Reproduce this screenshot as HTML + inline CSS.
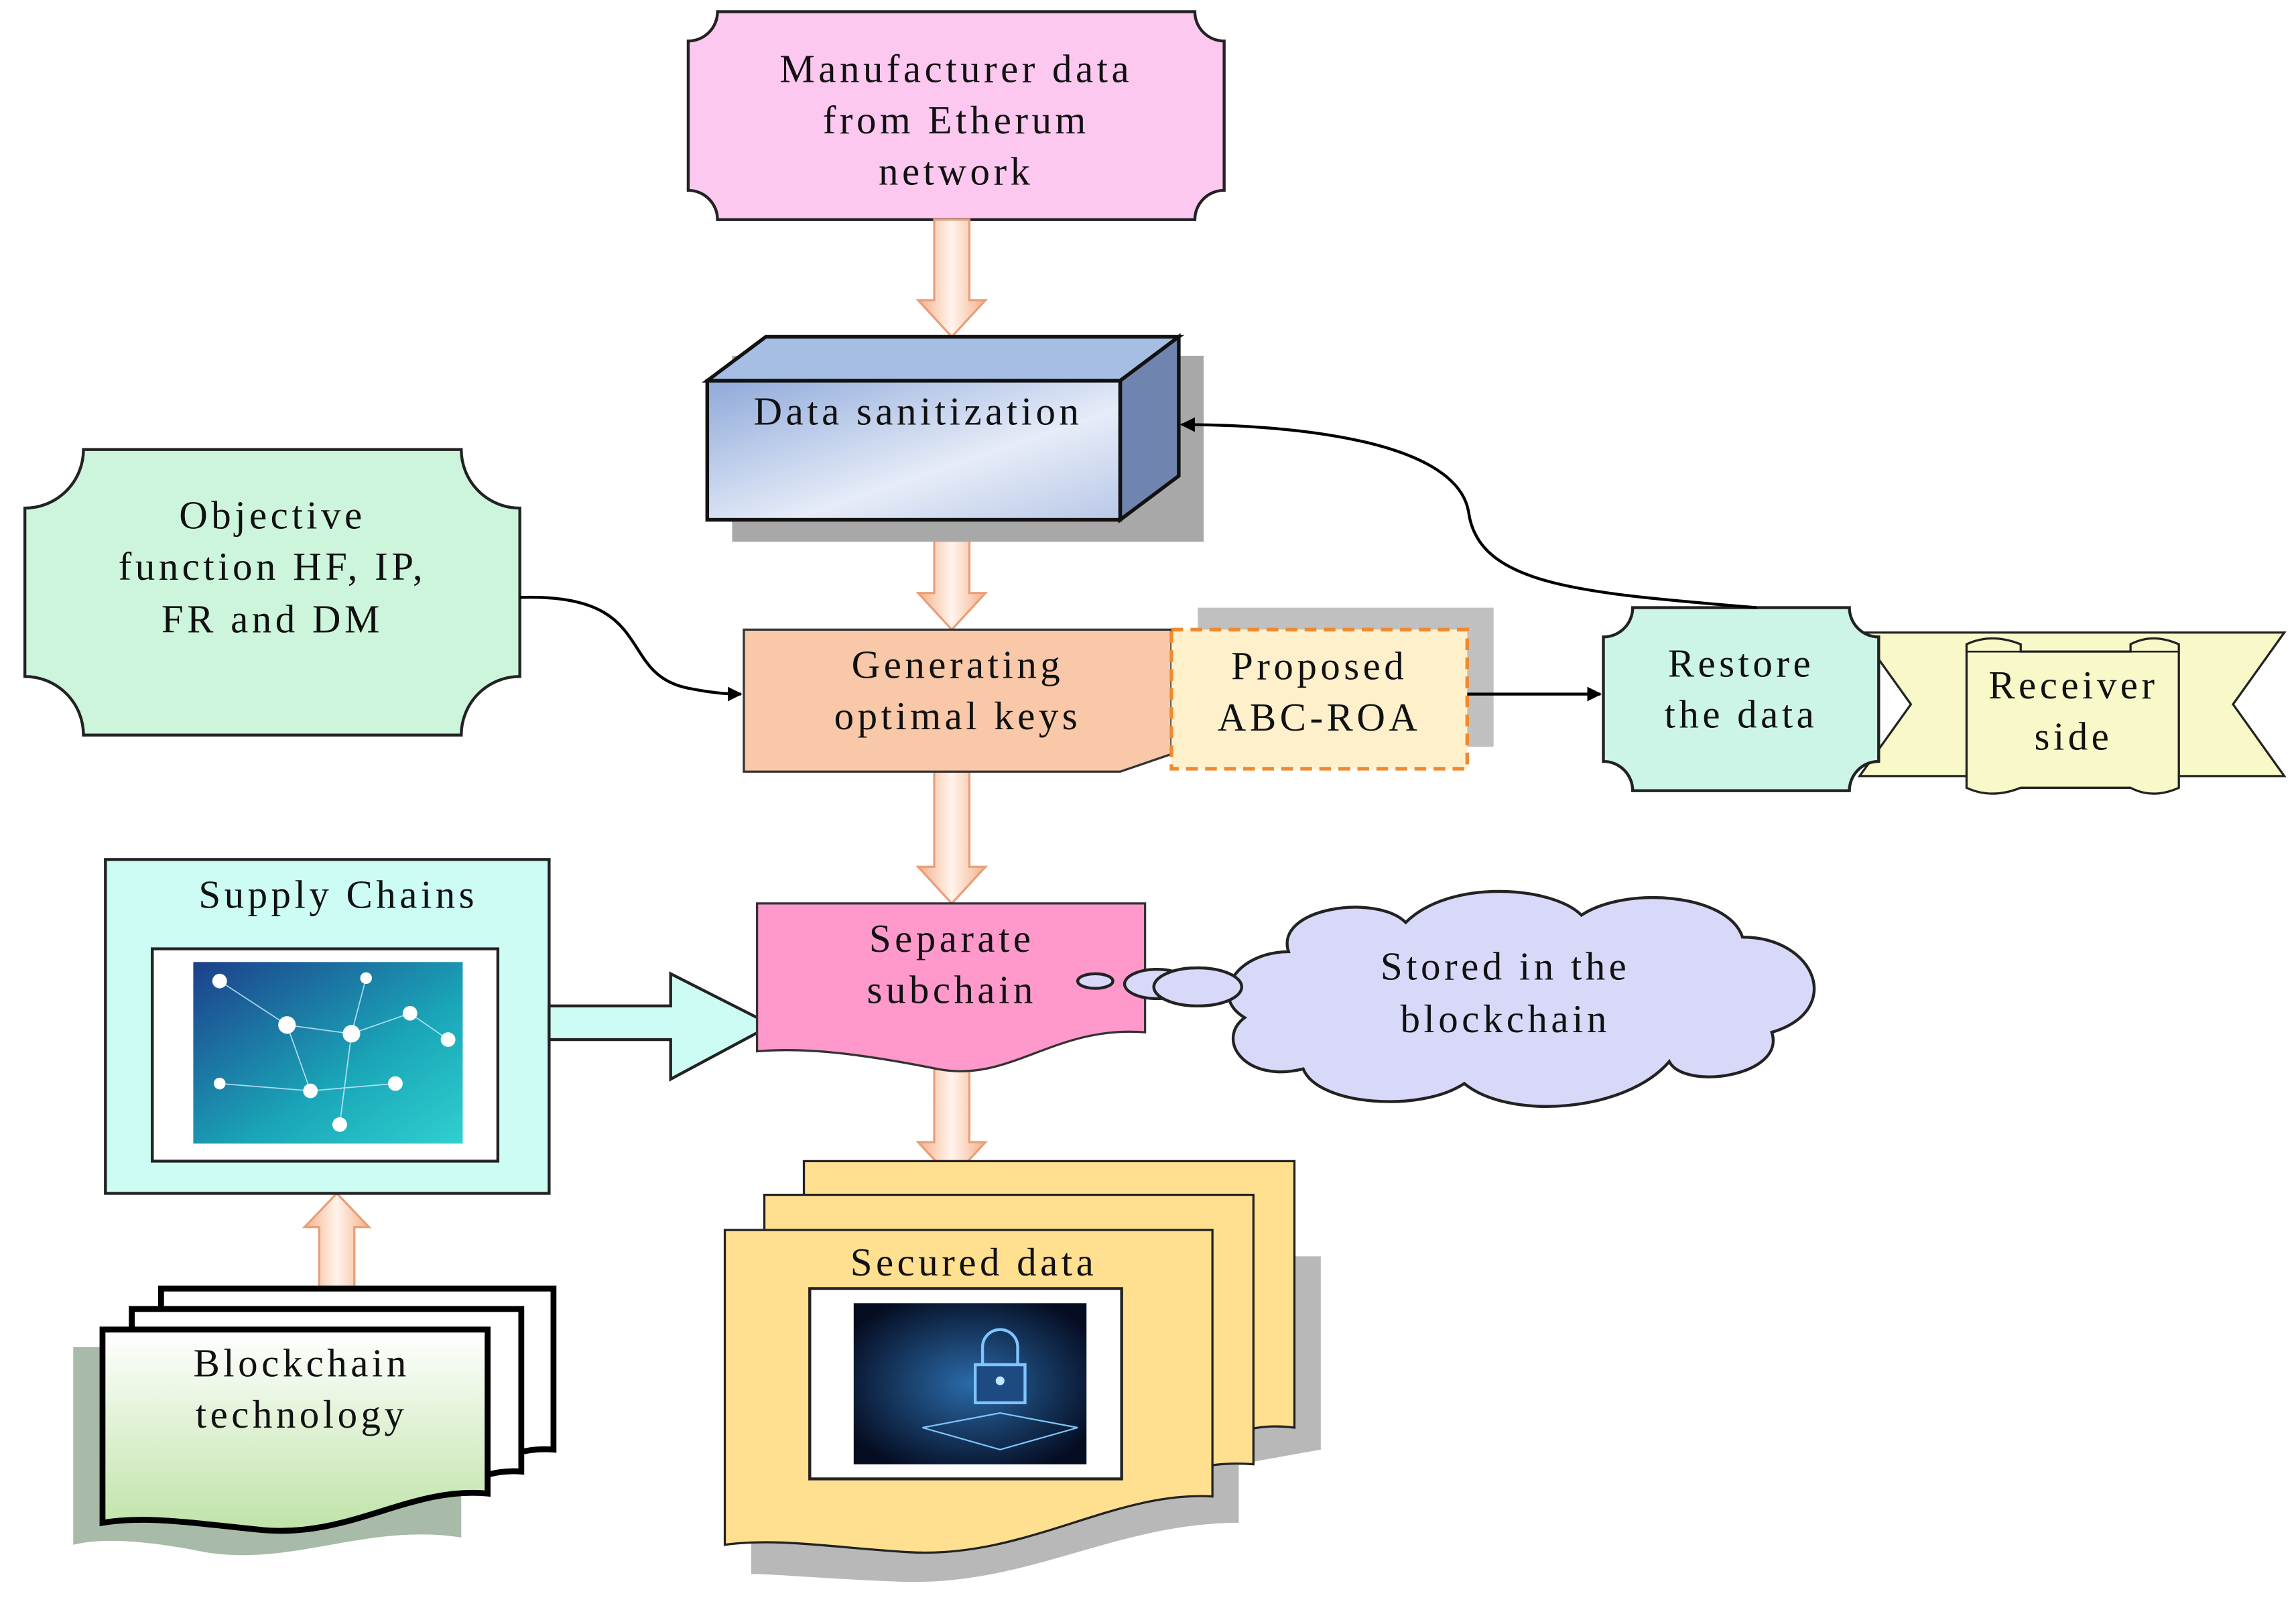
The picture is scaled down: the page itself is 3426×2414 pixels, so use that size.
<!DOCTYPE html>
<html><head><meta charset="utf-8"><style>
html,body{margin:0;padding:0;background:#fff;}
svg{display:block;}
text{font-family:"Liberation Serif",serif;font-size:27px;letter-spacing:2.5px;fill:#111;text-anchor:middle;}
</style></head><body>
<svg width="3426" height="2414" viewBox="0 0 1568 1105" preserveAspectRatio="none" xmlns="http://www.w3.org/2000/svg">
<defs>
<linearGradient id="arr" x1="0" x2="1" y1="0" y2="0"><stop offset="0" stop-color="#f5b08a"/><stop offset="0.5" stop-color="#fff4ec"/><stop offset="1" stop-color="#f5b08a"/></linearGradient>
<linearGradient id="blue" x1="0" y1="0" x2="1" y2="1"><stop offset="0" stop-color="#8fa9da"/><stop offset="0.6" stop-color="#e6ecf8"/><stop offset="1" stop-color="#b9c8e8"/></linearGradient>
<linearGradient id="green" x1="0" y1="0" x2="0" y2="1"><stop offset="0" stop-color="#ffffff"/><stop offset="1" stop-color="#bfe3a8"/></linearGradient>
<linearGradient id="net" x1="0" y1="0" x2="1" y2="1"><stop offset="0" stop-color="#1d3f8a"/><stop offset="0.6" stop-color="#1aa6b8"/><stop offset="1" stop-color="#2fd0d0"/></linearGradient>
<radialGradient id="lock" cx="0.5" cy="0.5" r="0.6"><stop offset="0" stop-color="#2a6aa8"/><stop offset="1" stop-color="#050d22"/></radialGradient>
<marker id="ah" markerWidth="10" markerHeight="10" refX="9" refY="5" orient="auto" markerUnits="userSpaceOnUse"><path d="M0,0 L10,5 L0,10 z" fill="#000"/></marker>
</defs>
<rect width="1568" height="1105" fill="#fff"/>

<path d="M490,8 H816 A20,20 0 0 0 836,28 V130 A20,20 0 0 0 816,150 H490 A20,20 0 0 0 470,130 V28 A20,20 0 0 0 490,8 Z" fill="#fcc8f0" stroke="#222" stroke-width="2"/>
<text x="653" y="56">Manufacturer data</text>
<text x="653" y="91">from Etherum</text>
<text x="653" y="126">network</text>

<g fill="url(#arr)" stroke="#e8a07a" stroke-width="1.5">
<path d="M638,150 H662 V205 H673 L650,230 L627,205 H638 Z"/>
<path d="M638,355 H662 V405 H673 L650,430 L627,405 H638 Z"/>
<path d="M638,527 H662 V592 H673 L650,617 L627,592 H638 Z"/>
<path d="M638,718 H662 V780 H673 L650,805 L627,780 H638 Z"/>
<path d="M218,890 H242 V838 H252 L230,815 L208,838 H218 Z"/>
</g>

<rect x="500" y="243" width="322" height="127" fill="#a8a8a8"/>
<path d="M483,260 L523,230 H805 L765,260 Z" fill="#a6bde4" stroke="#111" stroke-width="2.5"/>
<path d="M765,260 L805,230 V325 L765,355 Z" fill="#6f84ae" stroke="#111" stroke-width="2.5"/>
<rect x="483" y="260" width="282" height="95" fill="url(#blue)" stroke="#111" stroke-width="2.5"/>
<text x="627" y="290">Data sanitization</text>

<path d="M57,307 H315 A40,40 0 0 0 355,347 V462 A40,40 0 0 0 315,502 H57 A40,40 0 0 0 17,462 V347 A40,40 0 0 0 57,307 Z" fill="#ccf5dc" stroke="#222" stroke-width="2"/>
<text x="186" y="361">Objective</text>
<text x="186" y="396">function HF, IP,</text>
<text x="186" y="432">FR and DM</text>
<path d="M355,408 C450,405 420,460 470,470 C485,473 495,474 506,474" fill="none" stroke="#000" stroke-width="2" marker-end="url(#ah)"/>

<path d="M508,430 H800 V515 L765,527 H508 Z" fill="#f8c8a8" stroke="#333" stroke-width="1.5"/>
<text x="654" y="463">Generating</text>
<text x="654" y="498">optimal keys</text>

<rect x="818" y="415" width="202" height="95" fill="#c0c0c0"/>
<rect x="800" y="430" width="202" height="95" fill="#fff0cc" stroke="#f08a30" stroke-width="2.5" stroke-dasharray="8,5"/>
<text x="901" y="464">Proposed</text>
<text x="901" y="499">ABC-ROA</text>
<line x1="1002" y1="474" x2="1093" y2="474" stroke="#000" stroke-width="2" marker-end="url(#ah)"/>

<path d="M1270,432 H1560 L1525,481 L1560,530 H1270 L1305,481 Z" fill="#f8f8c8" stroke="#222" stroke-width="1.5"/>
<path d="M1343,440 Q1360,432 1380,440 V445 H1455 V440 Q1470,432 1488,440 V538 Q1470,546 1455,538 H1380 V538 Q1360,546 1343,538 Z" fill="#f8f8c8" stroke="#222" stroke-width="1.5"/>
<line x1="1343" y1="445" x2="1488" y2="445" stroke="#222" stroke-width="1.2"/>
<text x="1416" y="477">Receiver</text>
<text x="1416" y="512">side</text>

<path d="M1115,415 H1263 A20,20 0 0 0 1283,435 V520 A20,20 0 0 0 1263,540 H1115 A20,20 0 0 0 1095,520 V435 A20,20 0 0 0 1115,415 Z" fill="#ccf5e8" stroke="#222" stroke-width="2"/>
<text x="1189" y="462">Restore</text>
<text x="1189" y="497">the data</text>
<path d="M1200,415 C1080,405 1010,400 1003,350 C995,300 880,290 807,290" fill="none" stroke="#000" stroke-width="2" marker-end="url(#ah)"/>

<rect x="72" y="587" width="303" height="228" fill="#ccfcf4" stroke="#222" stroke-width="2"/>
<text x="231" y="620">Supply Chains</text>
<rect x="104" y="648" width="236" height="145" fill="#fff" stroke="#222" stroke-width="2"/>
<rect x="132" y="657" width="184" height="124" fill="url(#net)"/>
<g stroke="#cfefff" stroke-width="0.8" opacity="0.8">
<line x1="150" y1="670" x2="196" y2="700"/><line x1="196" y1="700" x2="240" y2="706"/><line x1="240" y1="706" x2="280" y2="692"/><line x1="280" y1="692" x2="306" y2="710"/><line x1="196" y1="700" x2="212" y2="745"/><line x1="212" y1="745" x2="270" y2="740"/><line x1="150" y1="740" x2="212" y2="745"/><line x1="240" y1="706" x2="232" y2="768"/><line x1="250" y1="668" x2="240" y2="706"/>
</g>
<g fill="#fff"><circle cx="150" cy="670" r="5"/><circle cx="196" cy="700" r="6"/><circle cx="240" cy="706" r="6"/><circle cx="280" cy="692" r="5"/><circle cx="306" cy="710" r="5"/><circle cx="212" cy="745" r="5"/><circle cx="270" cy="740" r="5"/><circle cx="150" cy="740" r="4"/><circle cx="232" cy="768" r="5"/><circle cx="250" cy="668" r="4"/></g>
<path d="M375,687 H458 V665 L527,700 L458,737 V710 H375 Z" fill="#ccfcf4" stroke="#222" stroke-width="2"/>

<path d="M517,617 H782 V705 C720,700 690,740 640,730 C590,720 550,715 517,718 Z" fill="#ff99cc" stroke="#333" stroke-width="1.5"/>
<text x="650" y="650">Separate</text>
<text x="650" y="685">subchain</text>

<g fill="#d8d8f8" stroke="#222" stroke-width="2">
<ellipse cx="748" cy="670" rx="12" ry="5"/>
<ellipse cx="790" cy="672" rx="22" ry="10"/>
<ellipse cx="818" cy="674" rx="30" ry="13"/>
<path d="M880,650 C870,620 940,610 960,630 C990,600 1060,605 1080,625 C1110,605 1180,610 1190,640 C1240,640 1260,690 1210,705 C1220,735 1150,745 1140,725 C1110,760 1030,765 1000,740 C970,760 900,755 890,730 C850,740 830,710 850,695 C825,680 845,650 880,650 Z"/>
</g>
<ellipse cx="818" cy="674" rx="30" ry="13" fill="#d8d8f8" stroke="#222" stroke-width="2"/>
<text x="1028" y="669">Stored in the</text>
<text x="1028" y="705">blockchain</text>

<path d="M50,920 H315 V1050 C250,1040 200,1070 140,1060 C100,1052 70,1050 50,1055 Z" fill="#9fb39f" opacity="0.9"/>
<path d="M110,880 H378 V990 C350,988 340,1000 330,1000 L110,990 Z" fill="#fff" stroke="#000" stroke-width="4"/>
<path d="M90,894 H356 V1005 C330,1003 320,1015 310,1015 L90,1005 Z" fill="#fff" stroke="#000" stroke-width="4"/>
<path d="M70,908 H333 V1020 C280,1015 240,1050 180,1045 C130,1040 100,1035 70,1040 Z" fill="url(#green)" stroke="#000" stroke-width="4"/>
<text x="206" y="940">Blockchain</text>
<text x="206" y="975">technology</text>

<path d="M513,858 H902 V990 L846,1000 V1040 C760,1040 700,1085 610,1080 C560,1078 530,1075 513,1075 Z" fill="#b8b8b8"/>
<path d="M549,793 H884 V975 C860,972 850,978 840,978 L549,975 Z" fill="#ffe090" stroke="#222" stroke-width="1.5"/>
<path d="M522,816 H856 V1000 C830,998 820,1003 810,1003 L522,1000 Z" fill="#ffe090" stroke="#222" stroke-width="1.5"/>
<path d="M495,840 H828 V1022 C760,1018 700,1065 620,1060 C570,1057 530,1050 495,1055 Z" fill="#ffe090" stroke="#222" stroke-width="1.5"/>
<text x="665" y="871">Secured data</text>
<rect x="553" y="880" width="213" height="130" fill="#fff" stroke="#222" stroke-width="2"/>
<rect x="583" y="890" width="159" height="110" fill="url(#lock)"/>
<g stroke="#7fc4ff" stroke-width="2" fill="none">
<path d="M671,932 V920 A12,12 0 0 1 695,920 V932"/>
<rect x="666" y="932" width="34" height="26" fill="#1d4a80"/>
<path d="M630,975 L683,965 L736,975 L683,990 Z" stroke-width="1"/>
</g>
<circle cx="683" cy="943" r="3" fill="#bfe6ff"/>
</svg>
</body></html>
